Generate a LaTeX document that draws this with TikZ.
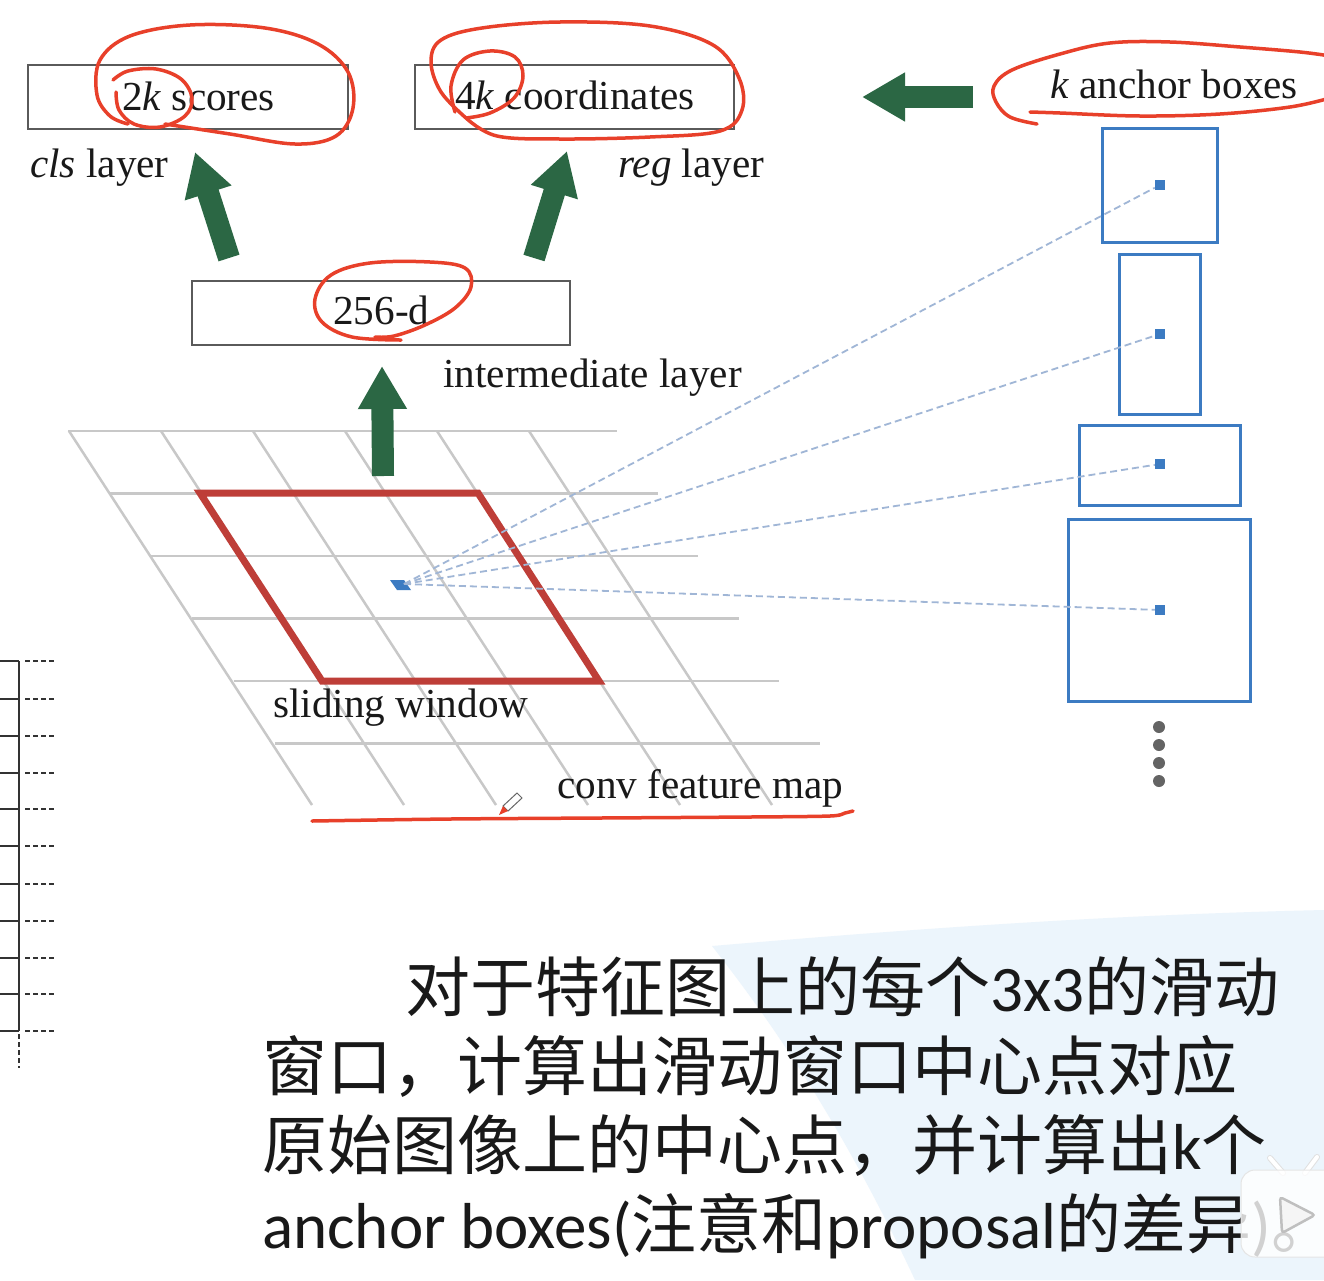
\documentclass[tikz,border=0pt]{standalone}
\usepackage{fontspec}
\setmainfont{Liberation Serif}
\newfontfamily\cjkfnt{Noto Sans CJK SC}
\newfontfamily\latfnt{Carlito}
\usetikzlibrary{arrows.meta}
\definecolor{agreen}{RGB}{43,103,68}
\definecolor{boxgray}{RGB}{90,90,90}
\definecolor{gridgray}{RGB}{200,200,200}
\definecolor{winred}{RGB}{190,62,56}
\definecolor{ablue}{RGB}{60,123,194}
\definecolor{dashblue}{RGB}{160,182,214}
\definecolor{penred}{RGB}{232,64,42}
\definecolor{bgblue}{RGB}{236,245,252}
\definecolor{txt}{RGB}{25,25,25}
\definecolor{dotgray}{RGB}{100,100,100}
\tikzset{
  layerbox/.style={draw=boxgray, line width=2.5pt, inner sep=0pt, minimum height=64pt},
  lbl/.style={anchor=base west, inner sep=0pt, text=txt, font=\fontsize{41.2}{48}\selectfont},
  cjkline/.style={anchor=base west, inner sep=0pt, text=txt, font=\fontsize{65}{78}\selectfont\cjkfnt},
  fatarrow/.style={draw=agreen, line width=22pt, -{Triangle[width=46pt,length=43pt]}},
  gridline/.style={draw=gridgray, line width=2.5pt},
  window/.style={draw=winred, line width=7pt, line join=miter},
  anchorbox/.style={draw=ablue, line width=3pt, inner sep=0pt},
  adot/.style={fill=ablue, inner sep=0pt, minimum size=10pt, rectangle},
  dashline/.style={draw=dashblue, line width=1.8pt, dash pattern=on 7pt off 4pt},
  moredot/.style={circle, fill=dotgray, inner sep=0pt, minimum size=12pt},
  annot/.style={draw=penred, line width=3.5pt, line cap=round, line join=round},
  ladder/.style={draw=black!80, line width=1.5pt},
  ladderdash/.style={draw=black!80, line width=1.5pt, dash pattern=on 5pt off 3pt}
}
\begin{document}
\begin{tikzpicture}[x=1pt,y=-1pt]
\useasboundingbox (0,0) rectangle (1324,1280);
\fill[white] (0,0) rectangle (1324,1280);

% light blue background at bottom right
\fill[bgblue] (712,946) .. controls (900,930) and (1100,915) .. (1324,910) -- (1324,1280) -- (915,1280) .. controls (840,1120) and (770,1020) .. (712,946) -- cycle;

% left ladder
\draw[ladder] (19,661) -- (19,1031);
\foreach \yy in {661,699,736,773,809,846,884,921,958,994,1031}{
  \draw[ladder] (0,\yy) -- (19,\yy);
  \draw[ladderdash] (25,\yy) -- (56,\yy);
}
\draw[ladderdash] (19,1034) -- (19,1068);

% conv feature map grid
\foreach \i in {0,...,5}{
  \draw[gridline] ({68+41.4*\i},{431+62.5*\i}) -- ({617+40.6*\i},{431+62.5*\i});
}
\foreach \k in {0,...,5}{
  \draw[gridline] ({69+92*\k},431) -- ({312+92*\k},805);
}

% sliding window
\draw[window] (200,493) -- (478,493) -- (599,681) -- (322,681) -- cycle;

% centre point
\fill[ablue] (390,580) -- (404,580) -- (411,590) -- (397,590) -- cycle;
\coordinate (cp) at (404,584);

% anchor boxes
\node[anchorbox, minimum width=115pt, minimum height=114pt] (b1) at (1159.5,185) {};
\node[anchorbox, minimum width=81pt, minimum height=160pt] (b2) at (1159.5,334) {};
\node[anchorbox, minimum width=161pt, minimum height=80pt] (b3) at (1159.5,465) {};
\node[anchorbox, minimum width=182pt, minimum height=182pt] (b4) at (1159,610) {};
\node[adot] (d1) at (1160,185) {};
\node[adot] (d2) at (1160,334) {};
\node[adot] (d3) at (1160,464) {};
\node[adot] (d4) at (1160,610) {};
\foreach \d in {d1,d2,d3,d4}{ \draw[dashline] (cp) -- (\d); }
\foreach \yy [count=\n] in {727,745,763,781}{ \node[moredot] (m\n) at (1159,\yy) {}; }

% layer boxes
\node[layerbox, minimum width=320pt] (cls) at (188,97) {};
\node[layerbox, minimum width=319pt] (reg) at (574.5,97) {};
\node[layerbox, minimum width=378pt] (mid) at (381,313) {};

% texts
\node[lbl] (clstxt) at (122,110) {2\textit{k} scores};
\node[lbl] (regtxt) at (455,109) {4\textit{k} coordinates};
\node[lbl] (midtxt) at (333,324) {256-d};
\node[lbl] (anctxt) at (1050,98) {\textit{k} anchor boxes};
\node[lbl] (clslbl) at (30,177) {\textit{cls} layer};
\node[lbl] (reglbl) at (618,177) {\textit{reg} layer};
\node[lbl] (midlbl) at (443,387) {intermediate layer};
\node[lbl] (swlbl) at (273,717) {sliding window};
\node[lbl] (cfmlbl) at (557,798) {conv feature map};

% green arrows
\coordinate (u0) at (383,476); \coordinate (u1) at (382,366);
\coordinate (l0) at (229,258); \coordinate (l1) at (195,152);
\coordinate (r0) at (534,258); \coordinate (r1) at (567,151);
\coordinate (k0) at (973,97); \coordinate (k1) at (862,97);
\draw[fatarrow] (u0) -- (u1);
\draw[fatarrow] (l0) -- (l1);
\draw[fatarrow] (r0) -- (r1);
\draw[fatarrow] (k0) -- (k1);

% red hand annotations
\draw[annot] plot[smooth, tension=0.6] coordinates {(113,80) (128,71) (156,69) (181,79) (192,98) (185,116) (160,127) (134,124) (119,110) (116,92)};
\draw[annot] plot[smooth, tension=0.6] coordinates {(165,124) (230,134) (295,144) (336,136) (353,108) (348,72) (318,44) (265,28) (190,25) (130,36) (100,60) (97,95) (110,116) (128,124)};
\draw[annot] plot[smooth, tension=0.6] coordinates {(455,112) (451,86) (463,60) (490,51) (515,57) (523,76) (514,98) (490,113) (466,118)};
\draw[annot] plot[smooth, tension=0.6] coordinates {(466,118) (497,136) (560,139) (650,137) (720,131) (742,110) (739,78) (713,45) (650,26) (560,22) (482,28) (441,40) (431,62) (441,92) (466,118)};
\draw[annot] plot[smooth, tension=0.6] coordinates {(401,340) (352,337) (322,322) (315,299) (331,275) (370,263) (430,262) (465,268) (471,287) (455,308) (425,325) (394,336) (375,337)};
\draw[annot] plot[smooth, tension=0.6] coordinates {(1037,124) (1010,117) (996,102) (994,86) (1012,70) (1060,54) (1110,43) (1170,42) (1240,47) (1300,52) (1330,56)};
\draw[annot] plot[smooth, tension=0.6] coordinates {(1330,98) (1290,107) (1220,114) (1140,116) (1060,113) (1030,112)};
\draw[annot] plot[smooth, tension=0.5] coordinates {(312,821) (450,819) (600,818) (750,817) (830,816) (845,813) (853,811)};

% pen cursor
\draw[black!60, line width=1pt, fill=white] (503,806) -- (517,793) -- (522,798) -- (508,811) -- cycle;
\fill[penred] (499,815) -- (503,806) -- (508,811) -- cycle;

% chinese text
\node[cjkline] (t1) at (405,1011) {对于特征图上的每个{\latfnt 3x3}的滑动};
\node[cjkline] (t2) at (262,1090) {窗口，计算出滑动窗口中心点对应};
\node[cjkline] (t3) at (262,1169) {原始图像上的中心点，并计算出{\latfnt k}个};
\node[cjkline] (t4) at (262,1248) {{\latfnt anchor boxes(}注意和{\latfnt proposal}的差异{\latfnt )}\makebox[24pt][l]{。}};

% watermark logo
\draw[black!12, line width=6pt, line cap=round] (1270,1158) -- (1283,1173) (1317,1157) -- (1305,1173);
\draw[white, line width=4pt, line cap=round] (1270,1158) -- (1283,1173) (1317,1157) -- (1305,1173);
\fill[white, opacity=0.8, rounded corners=14pt] (1241,1170) rectangle (1345,1257);
\draw[black!10, line width=1pt, rounded corners=14pt] (1241,1170) rectangle (1345,1257);
\draw[black!25, line width=2.5pt, rounded corners=3pt, fill=black!4] (1280,1197) -- (1315,1215) -- (1282,1233) -- cycle;
\end{tikzpicture}
\end{document}
